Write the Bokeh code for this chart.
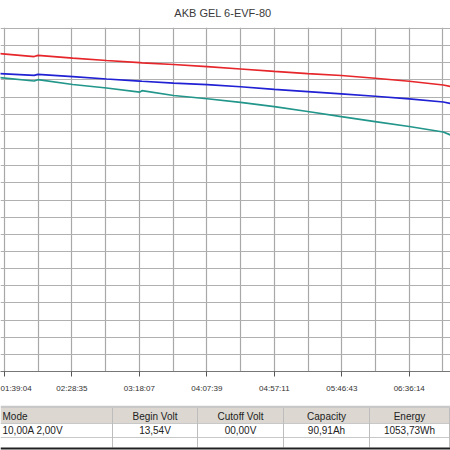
from bokeh.plotting import figure
from bokeh.models import Range1d, FixedTicker
from bokeh.layouts import column
from bokeh.embed import file_html
from bokeh.resources import INLINE
from bokeh.core.properties import value

# ---- data ----
title_text = "AKB GEL  6-EVF-80"
tick_labels = ["01:39:04", "02:28:35", "03:18:07", "04:07:39", "04:57:11", "05:46:43", "06:36:14"]
time_s = [5700, 7250, 7420, 8950, 10440, 11900, 12000, 13390, 14870, 16340,
          17830, 19300, 20780, 22270, 23770, 25270, 25600]
volt_red = [13.708, 13.673, 13.687, 13.654, 13.627, 13.603, 13.600, 13.580, 13.555, 13.528,
            13.499, 13.473, 13.452, 13.420, 13.385, 13.341, 13.324]
volt_blue = [13.475, 13.454, 13.465, 13.438, 13.411, 13.387, 13.385, 13.364, 13.345, 13.321,
             13.289, 13.263, 13.238, 13.210, 13.180, 13.143, 13.125]
volt_teal = [13.429, 13.388, 13.403, 13.347, 13.306, 13.258, 13.275, 13.219, 13.181, 13.139,
             13.088, 13.032, 12.973, 12.915, 12.857, 12.793, 12.758]
table_headers = ["Mode", "Begin Volt", "Cutoff Volt", "Capacity", "Energy"]
table_values = ["10,00A 2,00V", "13,54V", "00,00V", "90,91Ah", "1053,73Wh"]


def to_sec(s):
    h, m, sec = (int(v) for v in s.split(":"))
    return h * 3600 + m * 60 + sec


tick_vals = [to_sec(s) for s in tick_labels]
step = (tick_vals[-1] - tick_vals[0]) / (len(tick_vals) - 1)
grid_vals = []
for tv in tick_vals:
    grid_vals += [tv, tv + step / 2]

FONT = "Liberation Sans"


def blank(h):
    f = figure(width=450, height=h, output_backend="svg", toolbar_location=None,
               x_range=Range1d(0, 450), y_range=Range1d(h, 0), min_border=0)
    f.axis.visible = False
    f.grid.visible = False
    f.outline_line_color = None
    f.background_fill_color = "white"
    f.border_fill_color = "white"
    return f


# ---- title ----
ttl = blank(27)
ttl.text(x=[224], y=[12], text=[title_text], text_align="center", text_baseline="middle",
         text_font=value(FONT), text_font_size="11px", text_color="#3a3a3a")

# ---- chart ----
p = figure(width=450, height=378, output_backend="svg", toolbar_location=None,
           x_range=Range1d(5768, 25591), y_range=Range1d(10.0, 14.0117),
           min_border_left=0, min_border_right=0, min_border_top=0, min_border_bottom=34)
p.outline_line_color = None
p.background_fill_color = "white"
p.border_fill_color = "white"
p.yaxis.visible = False

p.xaxis.ticker = FixedTicker(ticks=tick_vals, minor_ticks=[])
p.xaxis.major_label_overrides = {float(tv): s for tv, s in zip(tick_vals, tick_labels)}
p.xaxis.major_label_text_font = FONT
p.xaxis.major_label_text_font_size = "8px"
p.xaxis.major_label_text_color = "#333333"
p.xaxis.major_label_standoff = 7
p.xaxis.major_tick_out = 5
p.xaxis.major_tick_in = 0
p.xaxis.major_tick_line_color = "#555555"
p.xaxis.minor_tick_line_color = None
p.xaxis.axis_line_color = "#777777"

p.xgrid.ticker = FixedTicker(ticks=grid_vals)
p.ygrid.ticker = FixedTicker(ticks=[10.0 + 0.2 * i for i in range(21)])
p.xgrid.grid_line_color = "#a8a8a8"
p.ygrid.grid_line_color = "#b0b0b0"
p.xgrid.grid_line_width = 1.2
p.ygrid.grid_line_width = 1.2

p.line(time_s, volt_red, line_color="#e6262a", line_width=1.7)
p.line(time_s, volt_blue, line_color="#2020d4", line_width=1.7)
p.line(time_s, volt_teal, line_color="#22968a", line_width=1.7)

# ---- table ----
t = blank(45)
t.quad(left=[0], right=[450], top=[0], bottom=[2.5], fill_color="#c8c8c8", line_color=None)
t.quad(left=[0], right=[450], top=[2.5], bottom=[18], fill_color="#dcd8d1", line_color=None)
t.segment(x0=[0, 0], y0=[18, 32], x1=[450, 450], y1=[18, 32], line_color="#c8c8c8", line_width=1)
seps = [112, 197, 283, 369, 449]
t.segment(x0=seps, y0=[2.5] * 5, x1=seps, y1=[42] * 5, line_color="#bdbdbd", line_width=1)
t.quad(left=[0], right=[450], top=[42], bottom=[44], fill_color="#202020", line_color=None)

centers = [2, 154.5, 240, 326, 409]
aligns = ["left", "center", "center", "center", "center"]
for cx, al, h, v in zip(centers, aligns, table_headers, table_values):
    t.text(x=[cx], y=[10.5], text=[h], text_align=al, text_baseline="middle",
           text_font=value(FONT), text_font_size="10px", text_color="#222222")
    t.text(x=[cx], y=[25], text=[v], text_align=al, text_baseline="middle",
           text_font=value(FONT), text_font_size="10px", text_color="#222222")

layout = column(ttl, p, t, spacing=0)
open("out.html", "w").write(file_html(layout, INLINE))
